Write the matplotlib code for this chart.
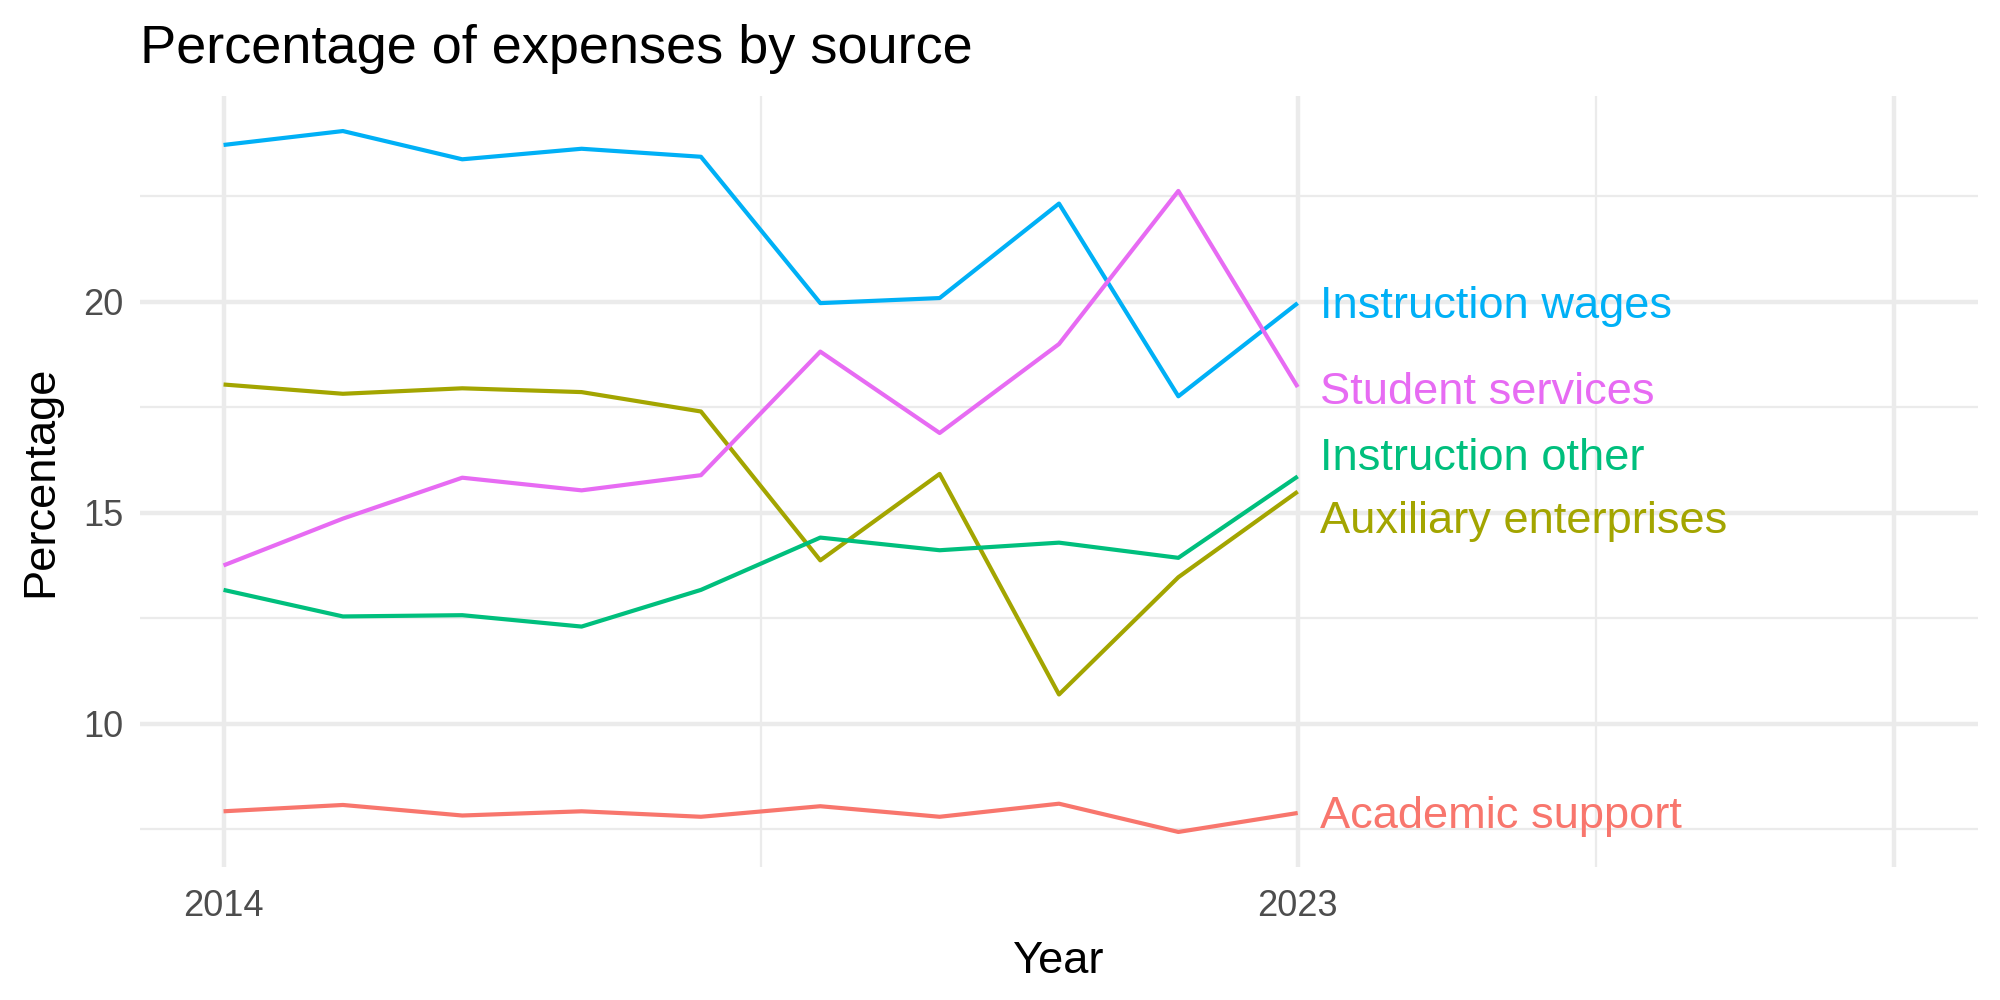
import matplotlib
matplotlib.use("Agg")
import matplotlib.pyplot as plt
from matplotlib.ticker import FixedLocator

plt.rcParams['font.family'] = ['Liberation Sans', 'DejaVu Sans']

years = list(range(2014, 2024))
instruction_wages = [23.72, 24.05, 23.38, 23.63, 23.44, 19.97, 20.09, 22.33, 17.76, 19.97]
student_services = [13.75, 14.86, 15.83, 15.53, 15.89, 18.82, 16.89, 19.00, 22.63, 17.98]
auxiliary_enterprises = [18.04, 17.82, 17.95, 17.86, 17.40, 13.87, 15.92, 10.69, 13.47, 15.50]
instruction_other = [13.17, 12.54, 12.57, 12.30, 13.17, 14.41, 14.11, 14.29, 13.93, 15.86]
academic_support = [7.92, 8.07, 7.82, 7.92, 7.79, 8.04, 7.79, 8.10, 7.43, 7.88]

series_names = ["Academic support", "Auxiliary enterprises", "Instruction other",
                "Instruction wages", "Student services"]
series_values = [academic_support, auxiliary_enterprises, instruction_other,
                 instruction_wages, student_services]
colors = ["#F8766D", "#A3A500", "#00BF7D", "#00B0F6", "#E76BF3"]
label_y = [7.80, 14.80, 16.28, 19.88, 17.86]

x_major = [2014, 2023, 2028]
x_labels = ["2014", "2023", ""]
x_minor = [2018.5, 2025.5]
y_major = [10, 15, 20]
y_minor = [7.5, 12.5, 17.5, 22.5]

fig = plt.figure(figsize=(10, 5), dpi=200)
ax = fig.add_axes([0.070, 0.133, 0.919, 0.771])

for name, vals, c, ly in zip(series_names, series_values, colors, label_y):
    ax.plot(years, vals, color=c, lw=1.5, solid_capstyle='butt', zorder=3)
    ax.text(years[-1] + 0.19, ly, name, color=c, fontsize=16.3,
            ha='left', va='center', zorder=4)

xmin, xmax = 2014, 2028
ax.set_xlim(xmin - 0.05 * (xmax - xmin), xmax + 0.05 * (xmax - xmin))
allv = [v for s in series_values for v in s]
lo, hi = min(allv), max(allv)
ax.set_ylim(lo - 0.05 * (hi - lo), hi + 0.05 * (hi - lo))

ax.xaxis.set_major_locator(FixedLocator(x_major))
ax.set_xticklabels(x_labels)
ax.xaxis.set_minor_locator(FixedLocator(x_minor))
ax.yaxis.set_major_locator(FixedLocator(y_major))
ax.yaxis.set_minor_locator(FixedLocator(y_minor))

ax.grid(which='major', color='#EBEBEB', lw=1.6, zorder=0)
ax.grid(which='minor', color='#EBEBEB', lw=0.8, zorder=0)
for s in ax.spines.values():
    s.set_visible(False)
ax.tick_params(which='both', length=0)
ax.tick_params(axis='both', labelsize=13, labelcolor='#4D4D4D')
ax.tick_params(axis='x', pad=8)
ax.tick_params(axis='y', pad=6)

ax.set_xlabel("Year", fontsize=16.3, color='black', labelpad=6)
ax.set_ylabel("Percentage", fontsize=16.3, color='black', labelpad=8)
fig.text(0.070, 0.937, "Percentage of expenses by source", fontsize=19.5,
         ha='left', va='baseline', color='black')

fig.savefig("out.png", dpi=200, facecolor='white')
